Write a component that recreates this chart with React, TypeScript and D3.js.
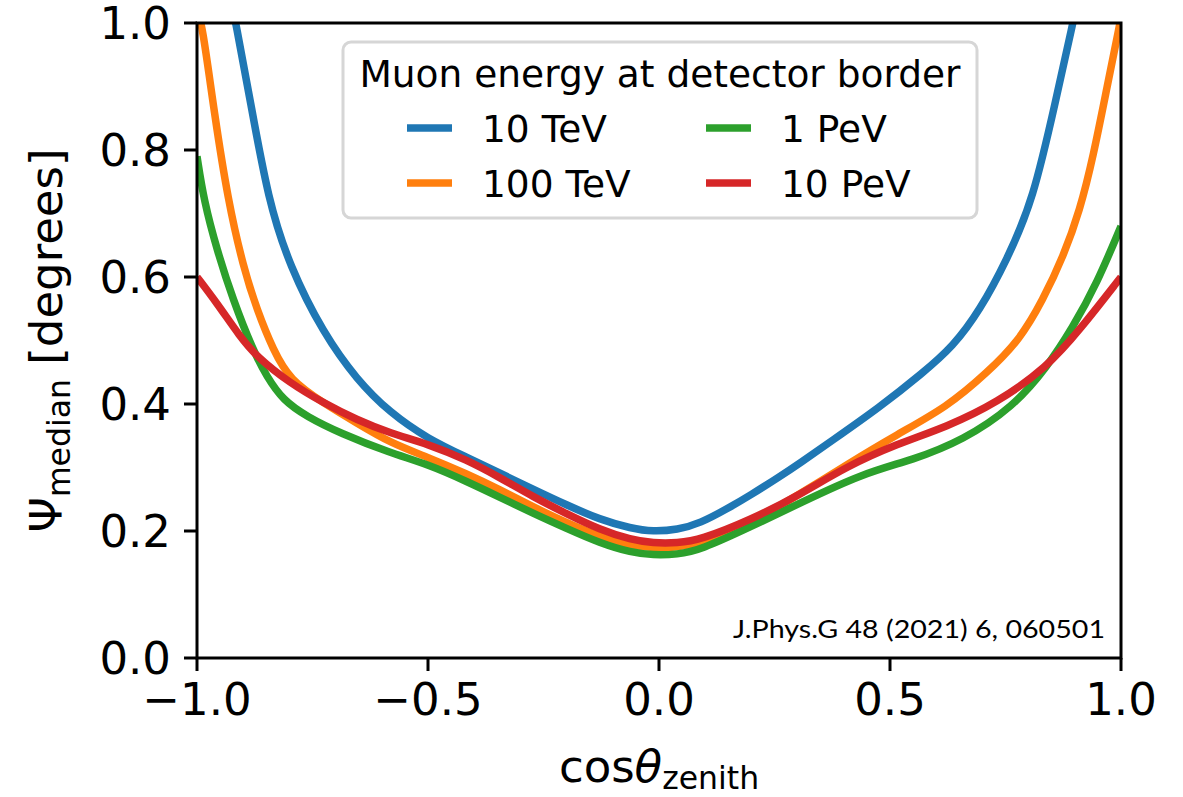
import React from "react";
import * as d3 from "d3";

const W = 1183;
const H = 797;

const xTicks = [-1.0, -0.5, 0.0, 0.5, 1.0];
const yTicks = [0.0, 0.2, 0.4, 0.6, 0.8, 1.0];

const seriesNames = ["10 TeV", "100 TeV", "1 PeV", "10 PeV"];
const seriesColors = ["#1f77b4", "#ff7f0e", "#2ca02c", "#d62728"];

const blueX = [-0.93, -0.916, -0.885, -0.846, -0.799, -0.727, -0.654, -0.582, -0.5, -0.416, -0.344, -0.273, -0.2, -0.128, -0.06, -0.013, 0.04, 0.089, 0.15, 0.197, 0.262, 0.305, 0.37, 0.478, 0.571, 0.636, 0.695, 0.753, 0.81, 0.859, 0.896, 0.91];
const blueY = [1.05, 1.0, 0.879, 0.721, 0.616, 0.512, 0.438, 0.386, 0.345, 0.316, 0.291, 0.266, 0.241, 0.218, 0.204, 0.199, 0.202, 0.212, 0.236, 0.256, 0.286, 0.307, 0.34, 0.395, 0.449, 0.49, 0.548, 0.627, 0.721, 0.879, 1.0, 1.05];

const orangeX = [-1.0, -0.989, -0.962, -0.933, -0.9, -0.87, -0.835, -0.799, -0.727, -0.654, -0.582, -0.5, -0.416, -0.344, -0.273, -0.2, -0.128, -0.06, -0.013, 0.04, 0.089, 0.197, 0.305, 0.407, 0.515, 0.623, 0.71, 0.781, 0.831, 0.875, 0.911, 0.94, 0.97, 0.998, 1.0];
const orangeY = [1.02, 1.0, 0.855, 0.721, 0.616, 0.548, 0.485, 0.438, 0.402, 0.37, 0.339, 0.316, 0.29, 0.265, 0.238, 0.213, 0.191, 0.177, 0.173, 0.174, 0.181, 0.212, 0.258, 0.305, 0.352, 0.395, 0.449, 0.501, 0.564, 0.632, 0.705, 0.79, 0.9, 1.0, 1.01];

const greenX = [-1.0, -0.985, -0.957, -0.922, -0.879, -0.849, -0.814, -0.762, -0.69, -0.582, -0.5, -0.416, -0.344, -0.273, -0.2, -0.128, -0.06, -0.013, 0.04, 0.089, 0.197, 0.305, 0.442, 0.55, 0.658, 0.766, 0.84, 0.896, 0.948, 1.0];
const greenY = [0.79, 0.72, 0.643, 0.564, 0.485, 0.443, 0.406, 0.38, 0.354, 0.323, 0.305, 0.278, 0.253, 0.228, 0.204, 0.181, 0.166, 0.162, 0.163, 0.17, 0.206, 0.244, 0.291, 0.312, 0.343, 0.395, 0.458, 0.521, 0.59, 0.68];

const redX = [-1.0, -0.957, -0.907, -0.87, -0.799, -0.727, -0.654, -0.582, -0.5, -0.416, -0.344, -0.273, -0.2, -0.128, -0.06, -0.013, 0.04, 0.089, 0.197, 0.305, 0.407, 0.515, 0.623, 0.732, 0.84, 0.911, 1.0];
const redY = [0.6, 0.559, 0.506, 0.474, 0.433, 0.402, 0.375, 0.354, 0.337, 0.312, 0.284, 0.254, 0.227, 0.202, 0.186, 0.181, 0.181, 0.186, 0.217, 0.257, 0.302, 0.337, 0.364, 0.402, 0.458, 0.517, 0.6];

const seriesXs = [blueX, orangeX, greenX, redX];
const seriesYs = [blueY, orangeY, greenY, redY];

const citation = "J.Phys.G 48 (2021) 6, 060501";
const legendTitle = "Muon energy at detector border";

const left = 197;
const right = 1121;
const top = 23;
const bottom = 658;

const FONT = "'DejaVu Sans', sans-serif";

export default function App() {
  const x = d3.scaleLinear().domain([-1, 1]).range([left, right]);
  const y = d3.scaleLinear().domain([0, 1]).range([bottom, top]);
  const line = d3
    .line<[number, number]>()
    .x((d) => x(d[0]))
    .y((d) => y(d[1]))
    .curve(d3.curveBasis);

  const fmt = (v: number) => {
    const s = Math.abs(v).toFixed(1);
    return v < 0 ? "\u2212" + s : s;
  };

  const legendRows = [
    { i: 0, col: 0, row: 0 },
    { i: 2, col: 1, row: 0 },
    { i: 1, col: 0, row: 1 },
    { i: 3, col: 1, row: 1 },
  ];
  const colHandleX = [407, 706];
  const rowY = [128, 183];

  return (
    <svg
      width={W}
      height={H}
      style={{ position: "absolute", left: 0, top: 0, background: "#fff" }}
      fontFamily={FONT}
    >
      <defs>
        <clipPath id="plotclip">
          <rect x={left} y={top} width={right - left} height={bottom - top} />
        </clipPath>
      </defs>
      <rect x={0} y={0} width={W} height={H} fill="#fff" />

      <g clipPath="url(#plotclip)">
        {seriesXs.map((xs, i) => {
          const pts = xs.map((xv, j) => [xv, seriesYs[i][j]] as [number, number]);
          return (
            <path
              key={i}
              d={line(pts) || ""}
              fill="none"
              stroke={seriesColors[i]}
              strokeWidth={7.5}
              strokeLinejoin="round"
              strokeLinecap="butt"
            />
          );
        })}
      </g>

      {/* citation */}
      <text
        x={1105}
        y={638}
        textAnchor="end"
        fontFamily="Lato, 'Open Sans', sans-serif"
        fontSize={25}
        fill="#000"
        textLength={372}
        lengthAdjust="spacingAndGlyphs"
      >
        {citation}
      </text>

      {/* legend */}
      <rect
        x={343}
        y={42}
        width={634}
        height={176}
        rx={8}
        ry={8}
        fill="rgba(255,255,255,0.8)"
        stroke="#d6d6d6"
        strokeWidth={3}
      />
      <text x={660} y={87} textAnchor="middle" fontSize={37.5} fill="#000">
        {legendTitle}
      </text>
      {legendRows.map(({ i, col, row }) => (
        <g key={i}>
          <line
            x1={colHandleX[col]}
            x2={colHandleX[col] + 45}
            y1={rowY[row]}
            y2={rowY[row]}
            stroke={seriesColors[i]}
            strokeWidth={7.5}
          />
          <text x={colHandleX[col] + 75} y={rowY[row] + 14} fontSize={37.5} fill="#000">
            {seriesNames[i]}
          </text>
        </g>
      ))}

      {/* spines */}
      <rect x={left} y={top} width={right - left} height={bottom - top} fill="none" stroke="#000" strokeWidth={3} />

      {/* x ticks */}
      {xTicks.map((t) => (
        <g key={"x" + t}>
          <line x1={x(t)} x2={x(t)} y1={bottom} y2={bottom + 13} stroke="#000" strokeWidth={3} />
          <text x={x(t)} y={715} textAnchor="middle" fontSize={45} fill="#000">
            {fmt(t)}
          </text>
        </g>
      ))}
      {/* y ticks */}
      {yTicks.map((t) => (
        <g key={"y" + t}>
          <line x1={left - 13} x2={left} y1={y(t)} y2={y(t)} stroke="#000" strokeWidth={3} />
          <text x={171} y={y(t)} dy="0.36em" textAnchor="end" fontSize={45} fill="#000">
            {fmt(t)}
          </text>
        </g>
      ))}

      {/* x label */}
      <text x={(left + right) / 2} y={782} textAnchor="middle" fontSize={45} fill="#000">
        cos
        <tspan fontStyle="italic">θ</tspan>
        <tspan fontSize={31.5} dy={7}>zenith</tspan>
      </text>

      {/* y label */}
      <text
        transform={`translate(62, ${(top + bottom) / 2}) rotate(-90)`}
        textAnchor="middle"
        fontSize={45}
        fill="#000"
      >
        Ψ
        <tspan fontSize={31.5} dy={8}>median</tspan>
        <tspan dy={-8}> [degrees]</tspan>
      </text>
    </svg>
  );
}
